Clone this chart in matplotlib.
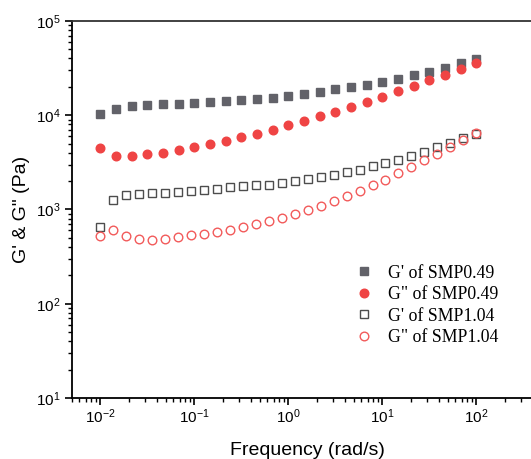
import matplotlib

matplotlib.use("Agg")
import matplotlib.pyplot as plt
import numpy as np
from matplotlib.ticker import LogLocator, NullFormatter

plt.rcParams["font.family"] = ["Liberation Sans", "DejaVu Sans"]
plt.rcParams["mathtext.fontset"] = "custom"
plt.rcParams["mathtext.rm"] = "Liberation Sans"
plt.rcParams["mathtext.it"] = "Liberation Sans:italic"

# frequency grids (rad/s): SMP0.49 has 6 pts/decade, SMP1.04 has 30 pts total
freq_049 = np.logspace(-2, 2, 25)
freq_104 = np.logspace(-2, 2, 30)

g1_049 = [10240, 11650, 12440, 12840, 13070, 13070, 13490, 13830, 14270, 14620,
          14870, 15360, 16000, 16940, 17780, 18840, 19950, 21090, 22700, 24430,
          26540, 28760, 31730, 35560, 39810]
g2_049 = [4460, 3720, 3720, 3850, 4010, 4280, 4570, 4950, 5330, 5920,
          6370, 6970, 7820, 8690, 9750, 10820, 12230, 13710, 15500, 17950,
          20280, 23490, 26740, 30960, 35560]
g1_104 = [658, 1253, 1415, 1463, 1486, 1514, 1530, 1571, 1622, 1659,
          1712, 1763, 1806, 1841, 1920, 2006, 2091, 2196, 2333, 2482,
          2655, 2860, 3099, 3377, 3713, 4074, 4579, 5112, 5775, 6247]
g2_104 = [526, 599, 517, 490, 477, 489, 513, 535, 556, 584,
          613, 652, 698, 746, 822, 889, 988, 1089, 1231, 1390,
          1583, 1820, 2070, 2421, 2825, 3326, 3908, 4637, 5461, 6531]

labels = ["G' of SMP0.49", 'G" of SMP0.49', "G' of SMP1.04", 'G" of SMP1.04']

fig = plt.figure(figsize=(5.31, 4.59), dpi=100)
ax = fig.add_axes([0.1356, 0.1329, 0.885, 0.8214])

ax.plot(freq_049, g1_049, "s", ls="none", ms=5.2, color="#626269", label=labels[0])
ax.plot(freq_049, g2_049, "o", ls="none", ms=6.2, color="#ef4444", label=labels[1])
ax.plot(freq_104, g1_104, "s", ls="none", ms=5.2, mfc="none", mec="#4d4d4d",
        mew=1.0, label=labels[2])
ax.plot(freq_104, g2_104, "o", ls="none", ms=6.2, mfc="none", mec="#f25a5a",
        mew=1.0, label=labels[3])

ax.set_xscale("log")
ax.set_yscale("log")
ax.set_xlim(5e-3, 5e2)
ax.set_ylim(10, 1e5)

ax.spines["right"].set_visible(False)
for s in ("top", "left", "bottom"):
    ax.spines[s].set_linewidth(1.3)
ax.spines["top"].set_color("#333333")

ax.xaxis.set_major_locator(LogLocator(base=10, numticks=10))
ax.xaxis.set_minor_locator(LogLocator(base=10, subs=np.arange(2, 10), numticks=20))
ax.xaxis.set_minor_formatter(NullFormatter())
ax.yaxis.set_minor_formatter(NullFormatter())
ax.tick_params(which="major", direction="out", length=5, width=1.2, labelsize=11,
               top=False, right=False)
ax.tick_params(which="minor", direction="out", length=3, width=1.0,
               top=False, right=False)
ax.tick_params(axis="x", which="major", pad=2)

ax.set_xlabel("Frequency (rad/s)", fontsize=14, labelpad=11)
ax.set_ylabel('G\' & G" (Pa)', fontsize=14, labelpad=4)

ax.legend(loc="upper left", bbox_to_anchor=(0.549, 0.396), frameon=False,
          numpoints=1, handlelength=2.0, handletextpad=0.35, labelspacing=0.25,
          prop={"family": "Liberation Serif", "size": 12.8})

fig.savefig("out.png", dpi=100)
